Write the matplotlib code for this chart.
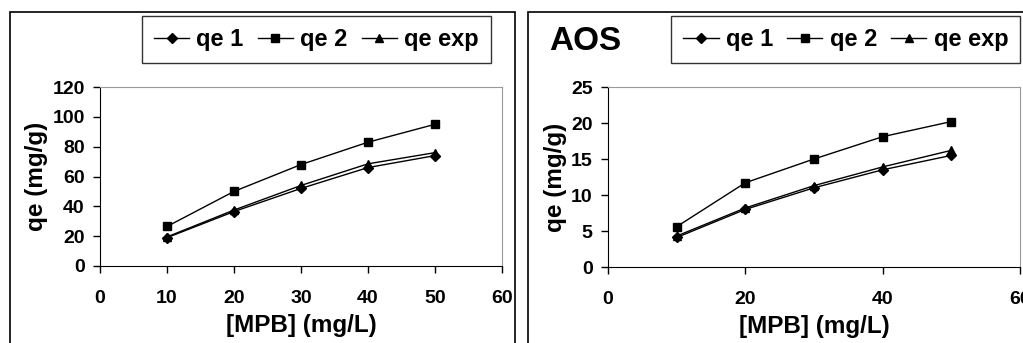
import matplotlib.pyplot as plt
from matplotlib.patches import Rectangle

plt.rcParams['font.family'] = ['Liberation Sans', 'DejaVu Sans']
plt.rcParams['font.weight'] = 'bold'

# data
mpb = [10, 20, 30, 40, 50]
left_qe1 = [19, 36.5, 52, 66, 74]
left_qe2 = [26.5, 50, 68, 83, 95]
left_qeexp = [19.5, 37.5, 54, 68.5, 76]
right_qe1 = [4.1, 8.0, 11.0, 13.5, 15.5]
right_qe2 = [5.6, 11.7, 15.0, 18.1, 20.2]
right_qeexp = [4.3, 8.2, 11.3, 13.9, 16.2]

W, H = 1023, 343
fig = plt.figure(figsize=(W / 100, H / 100), dpi=100)

# panel frames
for x0, x1 in [(10, 515), (528, 1030)]:
    fig.patches.append(Rectangle((x0 / W, -0.05), (x1 - x0) / W, 1 - 12 / H + 0.05,
                                 transform=fig.transFigure, fill=False,
                                 edgecolor='black', linewidth=1.2))


def make_panel(rect, qe1, qe2, qeexp, ylim, yticks, xticks, leg_loc, leg_x):
    ax = fig.add_axes(rect)
    ax.plot(mpb, qe1, color='black', lw=1, marker='D', ms=5, label='qe 1')
    ax.plot(mpb, qe2, color='black', lw=1, marker='s', ms=6, label='qe 2')
    ax.plot(mpb, qeexp, color='black', lw=1, marker='^', ms=6, label='qe exp')
    ax.set_xlim(0, 60)
    ax.set_ylim(*ylim)
    ax.set_xticks(xticks)
    ax.set_yticks(yticks)
    ax.tick_params(direction='out', length=5, width=1, labelsize=14)
    ax.tick_params(axis='x', pad=12)
    ax.tick_params(axis='y', pad=6)
    for s in ['top', 'right']:
        ax.spines[s].set_color('#999999')
    for s in ['left', 'bottom']:
        ax.spines[s].set_color('black')
    ax.set_xlabel('[MPB] (mg/L)', fontsize=17.5, fontweight='bold', labelpad=5)
    ax.set_ylabel('qe (mg/g)', fontsize=17.5, fontweight='bold', labelpad=3)
    leg = ax.legend(loc=leg_loc, bbox_to_anchor=(leg_x / W, 1 - 16 / H),
                    bbox_transform=fig.transFigure, ncol=3, fontsize=17,
                    frameon=True, fancybox=False, handlelength=1.5,
                    handletextpad=0.3, columnspacing=0.6, borderaxespad=0,
                    borderpad=0.5)
    leg.get_frame().set_edgecolor('black')
    leg.get_frame().set_linewidth(1)
    return ax


make_panel([100 / W, (H - 266) / H, 402 / W, 179 / H], left_qe1, left_qe2, left_qeexp,
           (0, 120), range(0, 121, 20), range(0, 61, 10), 'upper left', 142)
make_panel([608 / W, (H - 267) / H, 412 / W, 180 / H], right_qe1, right_qe2, right_qeexp,
           (0, 25), range(0, 26, 5), range(0, 61, 20), 'upper right', 1020)

fig.text(549 / W, 1 - 42 / H, 'AOS', fontsize=24, fontweight='bold', va='center', ha='left')

fig.savefig('out.png', dpi=100)
